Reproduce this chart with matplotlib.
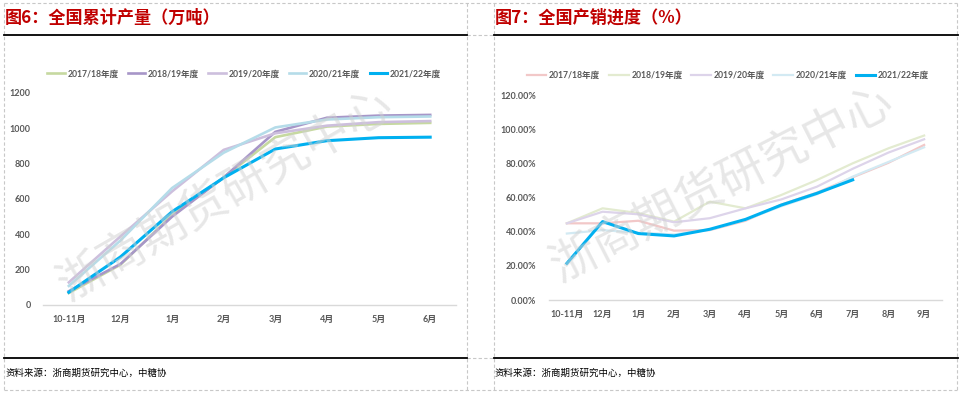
import matplotlib
matplotlib.use("Agg")
import matplotlib.pyplot as plt
from matplotlib.lines import Line2D

plt.rcParams['font.family'] = ['Lato', 'Noto Sans CJK SC', 'DejaVu Sans']

W, H = 962, 393

# ---------------- data ----------------
seasons = ["2017/18年度", "2018/19年度", "2019/20年度", "2020/21年度", "2021/22年度"]

prod_months = ["10-11月", "12月", "1月", "2月", "3月", "4月", "5月", "6月"]
prod_1718 = [68, 228, 508, 722, 950, 1010, 1025, 1031]
prod_1819 = [78, 232, 500, 722, 980, 1060, 1072, 1076]
prod_1920 = [128, 388, 643, 878, 972, 1015, 1035, 1041]
prod_2021 = [108, 365, 662, 862, 1005, 1050, 1063, 1067]
prod_2122 = [72, 272, 528, 720, 883, 930, 947, 950]

sale_months = ["10-11月", "12月", "1月", "2月", "3月", "4月", "5月", "6月", "7月", "8月", "9月"]
sale_1718 = [0.450, 0.450, 0.465, 0.407, 0.410, 0.465, 0.560, 0.630, 0.720, 0.805, 0.910]
sale_1819 = [0.450, 0.538, 0.510, 0.460, 0.577, 0.538, 0.616, 0.704, 0.802, 0.890, 0.965]
sale_1920 = [0.450, 0.518, 0.503, 0.456, 0.480, 0.538, 0.590, 0.665, 0.770, 0.865, 0.943]
sale_2021 = [0.390, 0.410, 0.395, 0.385, 0.412, 0.470, 0.550, 0.620, 0.724, 0.810, 0.896]
sale_2122 = [0.215, 0.460, 0.390, 0.376, 0.415, 0.473, 0.557, 0.626, 0.705]

prod_yticks = [0, 200, 400, 600, 800, 1000, 1200]
sale_yticks = [0, 0.2, 0.4, 0.6, 0.8, 1.0, 1.2]

title_left = "图6：全国累计产量（万吨）"
title_right = "图7：全国产销进度（%）"
source = "资料来源：浙商期货研究中心，中糖协"
watermark = "浙商期货研究中心"

prod_colors = ["#C6D9A0", "#A796C8", "#CDBFDD", "#B5DCE9", "#00B0F0"]
sale_colors = ["#F2C8C8", "#E3EBD0", "#DDD4EA", "#D3EAF3", "#00B0F0"]

# ---------------- figure ----------------
fig = plt.figure(figsize=(W / 100, H / 100), dpi=100)
fig.patch.set_facecolor("white")


def fx(x):
    return x / W


def fy(y):
    return 1 - y / H


def add_ax(x0, x1, ytop, ybot):
    return fig.add_axes([fx(x0), fy(ybot), fx(x1) - fx(x0), (ybot - ytop) / H])


# dashed cell borders
dash_kw = dict(color="#C8C8C8", lw=0.8, ls=(0, (3, 2)), transform=fig.transFigure)
for yy in [3, 390]:
    fig.add_artist(Line2D([fx(4), fx(957)], [fy(yy), fy(yy)], **dash_kw))
for yy in [35, 358]:
    fig.add_artist(Line2D([fx(467), fx(494)], [fy(yy), fy(yy)], **dash_kw))
for xx in [4, 467, 494, 957]:
    fig.add_artist(Line2D([fx(xx), fx(xx)], [fy(3), fy(390)], **dash_kw))

# black rules
for (a, b) in [(4, 467), (494, 958)]:
    for yy in [35, 358]:
        fig.add_artist(Line2D([fx(a), fx(b)], [fy(yy), fy(yy)], color="black", lw=1.3,
                              transform=fig.transFigure))

# titles
title_kw = dict(color="#C00000", fontsize=12.3, fontweight="bold",
                family=["Noto Sans CJK SC", "DejaVu Sans"], va="center", ha="left")
fig.text(fx(5), fy(18), title_left, **title_kw)
fig.text(fx(495), fy(18), title_right, **title_kw)

src_kw = dict(color="black", fontsize=6.8, family=["Noto Sans CJK SC", "DejaVu Sans"],
              va="center", ha="left")
fig.text(fx(5), fy(373), source, **src_kw)
fig.text(fx(495), fy(373), source, **src_kw)


def style_axes(ax):
    for s in ["top", "right", "left"]:
        ax.spines[s].set_visible(False)
    ax.spines["bottom"].set_color("#D9D9D9")
    ax.spines["bottom"].set_linewidth(1.0)
    ax.tick_params(axis="both", length=0, labelsize=6.5, labelcolor="#595959")
    ax.tick_params(axis="y", pad=9)
    ax.tick_params(axis="x", pad=7)
    for lab in ax.get_xticklabels() + ax.get_yticklabels():
        lab.set_fontweight("bold")
    ax.set_facecolor("none")


def style_legend(leg):
    for t in leg.get_texts():
        t.set_color("#595959")
        t.set_fontweight("bold")


# ---------------- left chart ----------------
axL = add_ax(43, 456, 93, 305)
xl = list(range(len(prod_months)))
prod_series = [prod_1718, prod_1819, prod_1920, prod_2021, prod_2122]
for i, (name, vals) in enumerate(zip(seasons, prod_series)):
    lw = 2.2 if i == 4 else 1.9
    axL.plot(xl[:len(vals)], vals, color=prod_colors[i], lw=lw, label=name,
             solid_joinstyle="round", zorder=3 + (1 if i == 4 else 0))
axL.set_xlim(-0.5, len(prod_months) - 0.5)
axL.set_ylim(0, 1200)
axL.set_yticks(prod_yticks)
axL.set_yticklabels([str(v) for v in prod_yticks])
axL.set_xticks(xl)
axL.set_xticklabels(prod_months)
style_axes(axL)
legL = axL.legend(loc="center", bbox_to_anchor=(fx(244), fy(74)),
                  bbox_transform=fig.transFigure, ncol=5, frameon=False,
                  fontsize=6.2, handlelength=2.0, handletextpad=0.3, columnspacing=1.1,
                  borderaxespad=0)
style_legend(legL)

fig.text(fx(225), fy(195), watermark, fontsize=34, color="#D0D0D0", alpha=0.5,
         rotation=30, ha="center", va="center", family=["Noto Sans CJK SC"],
         fontweight="light", zorder=10)

# ---------------- right chart ----------------
axR = add_ax(549, 942, 95.5, 300)
xr = list(range(len(sale_months)))
sale_series = [sale_1718, sale_1819, sale_1920, sale_2021, sale_2122]
for i, (name, vals) in enumerate(zip(seasons, sale_series)):
    lw = 2.2 if i == 4 else 1.6
    axR.plot(xr[:len(vals)], vals, color=sale_colors[i], lw=lw, label=name,
             solid_joinstyle="round", zorder=3 + (1 if i == 4 else 0))
axR.set_xlim(-0.5, len(sale_months) - 0.5)
axR.set_ylim(0, 1.2)
axR.set_yticks(sale_yticks)
axR.set_yticklabels([f"{v*100:.2f}%" for v in sale_yticks])
axR.set_xticks(xr)
axR.set_xticklabels(sale_months)
style_axes(axR)
legR = axR.legend(loc="center", bbox_to_anchor=(fx(728), fy(75.5)),
                  bbox_transform=fig.transFigure, ncol=5, frameon=False,
                  fontsize=6.2, handlelength=2.3, handletextpad=0.3, columnspacing=1.0,
                  borderaxespad=0)
style_legend(legR)

fig.text(fx(722), fy(185), watermark, fontsize=34, color="#D0D0D0", alpha=0.5,
         rotation=27, ha="center", va="center", family=["Noto Sans CJK SC"],
         fontweight="light", zorder=10)

fig.savefig("out.png", dpi=100, facecolor="white")
